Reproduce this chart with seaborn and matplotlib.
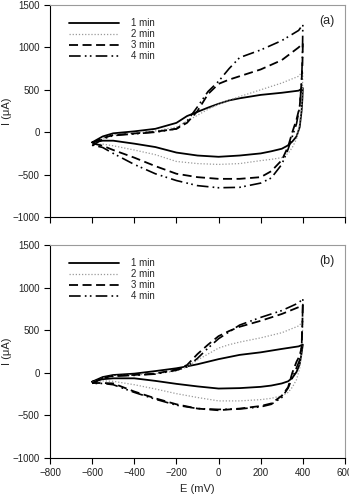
import numpy as np
import pandas as pd
import matplotlib
matplotlib.use("Agg")
import matplotlib.pyplot as plt
import seaborn as sns

# potential grid (mV): forward sweep then reverse sweep
E_fwd = [-600, -550, -500, -400, -300, -200, -150, -100, -50, 0, 50, 100, 200, 300, 380, 400]
E_rev = [400, 398, 394, 385, 370, 350, 330, 300, 250, 200, 100, 0, -100, -200, -300, -400, -500, -550, -600]

times = ["1 min", "2 min", "3 min", "4 min"]

# panel (a) currents (uA)
a_fwd = {
    "1 min": [-120, -50, -13, 10, 40, 110, 190, 240, 290, 335, 375, 400, 440, 465, 490, 520],
    "2 min": [-150, -70, -30, -10, 15, 60, 130, 200, 270, 330, 380, 420, 500, 580, 660, 720],
    "3 min": [-130, -70, -33, -15, 5, 40, 110, 250, 450, 570, 620, 660, 740, 850, 1000, 1050],
    "4 min": [-160, -80, -40, -20, 0, 40, 130, 300, 480, 600, 750, 880, 970, 1080, 1200, 1270],
}
a_rev = {
    "1 min": [520, 400, 250, 60, -50, -110, -155, -195, -225, -250, -275, -290, -275, -240, -175, -135, -100, -100, -120],
    "2 min": [720, 500, 300, 100, -80, -180, -250, -300, -320, -335, -370, -380, -370, -345, -265, -210, -160, -140, -150],
    "3 min": [1050, 800, 600, 300, 150, 0, -170, -330, -460, -530, -550, -550, -530, -490, -400, -300, -210, -160, -130],
    "4 min": [1270, 900, 600, 300, 100, -50, -200, -380, -540, -600, -650, -655, -630, -570, -490, -380, -250, -180, -150],
}

# panel (b) currents (uA)
b_fwd = {
    "1 min": [-105, -50, -26, -10, 20, 53, 75, 100, 130, 160, 185, 210, 240, 280, 310, 330],
    "2 min": [-115, -60, -35, -25, -10, 20, 70, 150, 220, 290, 330, 360, 410, 470, 550, 600],
    "3 min": [-120, -60, -35, -25, -10, 40, 90, 220, 330, 430, 490, 540, 610, 690, 770, 800],
    "4 min": [-125, -65, -40, -30, -15, 30, 70, 170, 290, 400, 480, 560, 650, 730, 820, 870],
}
b_rev = {
    "1 min": [330, 300, 230, 100, 10, -60, -100, -125, -150, -165, -180, -185, -160, -130, -95, -65, -65, -75, -105],
    "2 min": [600, 450, 250, 50, -80, -170, -230, -270, -300, -315, -330, -330, -290, -245, -190, -140, -100, -95, -110],
    "3 min": [800, 600, 300, 200, 130, 0, -170, -270, -360, -390, -420, -440, -420, -370, -300, -220, -125, -120, -120],
    "4 min": [870, 600, 300, 150, 60, -60, -180, -290, -370, -400, -425, -430, -420, -380, -310, -230, -140, -125, -125],
}

styles = {
    "1 min": dict(color="black", lw=1.3, dashes=()),
    "2 min": dict(color="#9a9a9a", lw=0.9, dashes=(1, 1.5)),
    "3 min": dict(color="black", lw=1.3, dashes=(5, 2.5)),
    "4 min": dict(color="black", lw=1.2, dashes=(7, 2.5, 1, 2, 1, 2.5)),
}


def make_frame(fwd, rev):
    rows = []
    for t in times:
        E = E_fwd + E_rev
        I = fwd[t] + rev[t]
        for k, (e, i) in enumerate(zip(E, I)):
            rows.append({"time": t, "E": e, "I": i, "step": k})
    return pd.DataFrame(rows)


sns.set_style("ticks")
plt.rcParams["font.family"] = ["Liberation Sans", "DejaVu Sans"]

fig = plt.figure(figsize=(3.49, 4.94), dpi=100)
ax_a = fig.add_axes([0.1433, 0.5607, 0.8452, 0.4292])
ax_b = fig.add_axes([0.1433, 0.0729, 0.8452, 0.4312])

for ax, fwd, rev, tag in [(ax_a, a_fwd, a_rev, "(a)"), (ax_b, b_fwd, b_rev, "(b)")]:
    df = make_frame(fwd, rev)
    for t in times:
        sub = df[df["time"] == t]
        st = styles[t]
        sns.lineplot(data=sub, x="E", y="I", sort=False, estimator=None, ax=ax,
                     color=st["color"], lw=st["lw"], label=t)
        line = ax.get_lines()[-1]
        if st["dashes"]:
            line.set_dashes(st["dashes"])
    ax.set_xlim(-800, 600)
    ax.set_ylim(-1000, 1500)
    ax.set_xticks(np.arange(-800, 601, 200))
    ax.set_yticks(np.arange(-1000, 1501, 500))
    ax.tick_params(direction="out", length=4, width=0.8, labelsize=7, colors="black")
    ax.tick_params(axis="both", labelcolor="#222222")
    for side in ["top", "right"]:
        ax.spines[side].set_color("#9a9a9a")
        ax.spines[side].set_linewidth(0.8)
    for side in ["left", "bottom"]:
        ax.spines[side].set_color("black")
        ax.spines[side].set_linewidth(0.8)
    ax.set_ylabel("I (\u03bcA)", fontsize=8)
    ax.yaxis.set_label_coords(-0.13, 0.5)
    ax.text(0.965, 0.925, tag, transform=ax.transAxes, fontsize=9, ha="right", va="center")
    ax.legend(loc="upper left", frameon=False, fontsize=7, handlelength=5.1,
              handletextpad=1.3, labelspacing=0.12, bbox_to_anchor=(0.035, 0.98))

ax_a.set_xlabel("")
ax_a.set_xticklabels([])
ax_b.set_xlabel("E (mV)", fontsize=8)

fig.savefig("out.png", dpi=100)
